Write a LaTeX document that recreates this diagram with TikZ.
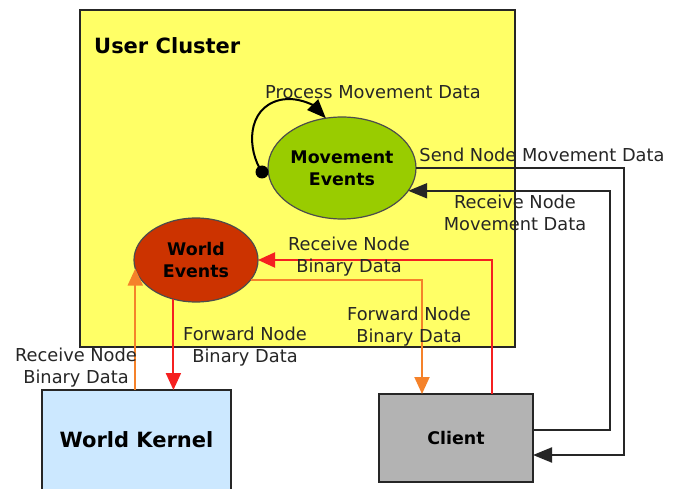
\documentclass[tikz,border=0pt]{standalone}
\usepackage{fontspec}
\setmainfont{DejaVu Sans}
\usetikzlibrary{shapes.geometric,arrows.meta,calc}

\definecolor{clusterfill}{HTML}{FFFF66}
\definecolor{movefill}{HTML}{99CC00}
\definecolor{worldfill}{HTML}{CC3300}
\definecolor{kernelfill}{HTML}{CCE8FF}
\definecolor{clientfill}{HTML}{B3B3B3}
\definecolor{redline}{HTML}{F52020}
\definecolor{orangeline}{HTML}{F5822A}
\definecolor{labeltext}{HTML}{262626}

\tikzset{
  boxlabel/.style={font=\fontsize{17.4}{20}\selectfont\bfseries, text=black},
  flowlabel/.style={font=\fontsize{17.8}{22}\selectfont, text=labeltext, align=center, inner sep=0pt},
  eventnode/.style={ellipse, draw=black!70, line width=1.2pt, inner sep=0pt, outer sep=0pt,
                    align=center, font=\fontsize{17.4}{22}\selectfont\bfseries},
  blockbox/.style={rectangle, draw=black!85, line width=2pt, inner sep=0pt, outer sep=0pt},
  blackflow/.style={draw=black!85, line width=2pt, -{Triangle[length=19pt,width=15pt]}},
  redflow/.style={draw=redline, line width=2pt, -{Triangle[length=17pt,width=15pt]}},
  orangeflow/.style={draw=orangeline, line width=2pt, -{Triangle[length=17pt,width=15pt]}},
}

\begin{document}
\begin{tikzpicture}[x=1pt,y=-1pt]
\clip (0,0) rectangle (682,489);
\fill[white] (0,0) rectangle (682,489);

% cluster frame
\node[blockbox, fill=clusterfill, minimum width=435pt, minimum height=337pt] (cluster) at (297.5,178.5) {};
\node[anchor=west, font=\fontsize{21}{24}\selectfont\bfseries, inner sep=0pt] (title) at (94,46) {User Cluster};

% event handlers
\node[eventnode, fill=movefill, minimum width=148pt, minimum height=102pt] (mov) at (342,168) {Movement\\Events};
\node[eventnode, fill=worldfill, minimum width=124pt, minimum height=84pt] (we) at (196,260) {World\\Events};

% external blocks
\node[blockbox, fill=kernelfill, minimum width=189pt, minimum height=100pt,
      font=\fontsize{21}{24}\selectfont\bfseries] (kernel) at (136.5,440) {World Kernel};
\node[blockbox, fill=clientfill, minimum width=154pt, minimum height=88pt, boxlabel] (client) at (456,438) {Client};

% bend points of the movement channel
\coordinate (sendbend) at (624,300);
\coordinate (recvbend) at (610,300);
\coordinate (loopstart) at (262,172);

% self loop on the movement handler
\draw[draw=black, line width=2pt, -{Triangle[length=19pt,width=15pt]}]
  (loopstart) .. controls (247,150) and (246,108) .. (280,100)
  .. controls (298,96) and (314,106) .. (mov.108);
\fill[black] (loopstart) circle (6.5pt);

% movement data to and from the client
\draw[blackflow] (mov.east) -| (sendbend) |- ($(client.east)+(0,17)$);
\draw[blackflow] ($(client.east)+(0,-8)$) -| (recvbend) |- (mov.-19.2);

% binary data between world events, kernel and client
\draw[redflow] (we.-120.5) -- (we.-120.5 |- kernel.north);
\draw[orangeflow] (we.-172.5 |- kernel.north) -- (we.-172.5);
\draw[redflow] ($(client.north east)+(-41,0)$) |- (we.east);
\draw[orangeflow] (we.-20) -| ($(client.north west)+(43,0)$);

% flow labels
\node[flowlabel] (lproc) at (373,92) {Process Movement Data};
\node[flowlabel] (lsend) at (542,155) {Send Node Movement Data};
\node[flowlabel] (lrecvmov) at (515,213) {Receive Node\\Movement Data};
\node[flowlabel] (lrecvbin) at (349,257) {Receive Node\\Binary Data};
\node[flowlabel] (lfwdk) at (245,347) {Forward Node\\Binary Data};
\node[flowlabel] (lfwdc) at (409,327) {Forward Node\\Binary Data};
\node[flowlabel] (lrecvk) at (76,368) {Receive Node\\Binary Data};
\end{tikzpicture}
\end{document}
